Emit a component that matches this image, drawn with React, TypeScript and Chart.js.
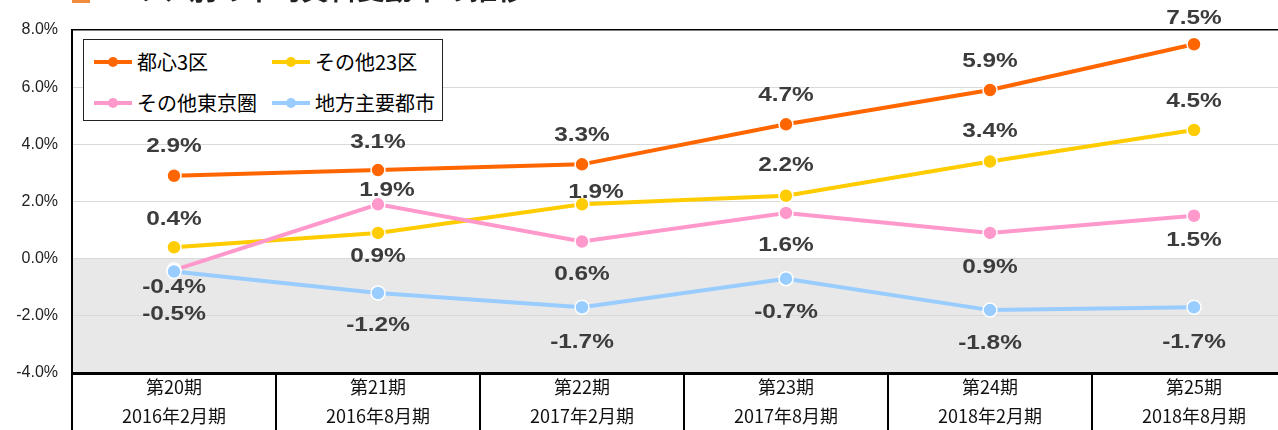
import React, { useEffect, useRef } from "react";
import { Chart, registerables } from "chart.js";

Chart.register(...registerables);

// ---- data ----
const periodLabels = ["第20期", "第21期", "第22期", "第23期", "第24期", "第25期"];
const dateLabels = ["2016年2月期", "2016年8月期", "2017年2月期", "2017年8月期", "2018年2月期", "2018年8月期"];
const seriesNames = ["都心3区", "その他23区", "その他東京圏", "地方主要都市"];
const toshin3 = [2.9, 3.1, 3.3, 4.7, 5.9, 7.5];
const other23 = [0.4, 0.9, 1.9, 2.2, 3.4, 4.5];
const otherTokyo = [-0.4, 1.9, 0.6, 1.6, 0.9, 1.5];
const regionalCities = [-0.45, -1.2, -1.7, -0.7, -1.8, -1.7];
const yTicks = [-4, -2, 0, 2, 4, 6, 8];
const titleText = "エリア別の平均賃料変動率の推移";

// ---- styles ----
const seriesColors = ["#FF6600", "#FFCC00", "#FF99CC", "#99CCFF"];
// label offsets (px) relative to each point
const labelDy = [
  [-29, -28, -29, -29, -29, -26],
  [-28, 24, -12, -30, -30, -29],
  [17, -14, 33, 33, 35, 25],
  [43, 33, 35, 34, 33, 35],
];
const labelDx = [
  [0, 0, 0, 0, 0, 0],
  [0, 0, 14, 0, 0, 0],
  [0, 9, 0, 0, 0, 0],
  [0, 0, 0, 0, 0, 0],
];

const seriesData = [toshin3, other23, otherTokyo, regionalCities];

const CANVAS_W = 1320;
const CANVAS_H = 430;

const negativeBandPlugin = {
  id: "negativeBand",
  beforeDraw(chart: any) {
    const { ctx, chartArea, scales } = chart;
    const y0 = scales.y.getPixelForValue(0);
    ctx.save();
    ctx.fillStyle = "#E8E8E8";
    ctx.fillRect(chartArea.left, y0, chartArea.right - chartArea.left, chartArea.bottom - y0);
    ctx.restore();
  },
};

const separatorPlugin = {
  id: "separators",
  afterDraw(chart: any) {
    const { ctx, chartArea, scales } = chart;
    const xs = scales.x;
    const n = periodLabels.length;
    const w = (xs.right - xs.left) / n;
    ctx.save();
    ctx.strokeStyle = "#000";
    ctx.lineWidth = 2;
    for (let i = 0; i <= n; i++) {
      const x = Math.round(xs.left + i * w);
      ctx.beginPath();
      ctx.moveTo(x, chartArea.bottom);
      ctx.lineTo(x, chart.height);
      ctx.stroke();
    }
    ctx.restore();
  },
};

const dataLabelPlugin = {
  id: "dataLabels",
  afterDatasetsDraw(chart: any) {
    const { ctx } = chart;
    ctx.save();
    ctx.font = "bold 20px 'Liberation Sans', Arial, sans-serif";
    ctx.fillStyle = "#3C3C3C";
    ctx.textAlign = "center";
    ctx.textBaseline = "middle";
    chart.data.datasets.forEach((ds: any, d: number) => {
      const meta = chart.getDatasetMeta(d);
      meta.data.forEach((pt: any, i: number) => {
        const v = ds.data[i] as number;
        const text = v.toFixed(1) + "%";
        ctx.save();
        ctx.translate(pt.x + labelDx[d][i], pt.y + labelDy[d][i]);
        ctx.scale(1.22, 1);
        ctx.fillText(text, 0, 0);
        ctx.restore();
      });
    });
    ctx.restore();
  },
};

export default function App() {
  const canvasRef = useRef<HTMLCanvasElement | null>(null);

  useEffect(() => {
    const canvas = canvasRef.current;
    if (!canvas) return;
    const chart = new Chart(canvas, {
      type: "line",
      data: {
        labels: periodLabels.map((p, i) => [p, dateLabels[i]]),
        datasets: seriesData.map((data, d) => ({
          label: seriesNames[d],
          data,
          borderColor: seriesColors[d],
          backgroundColor: seriesColors[d],
          borderWidth: 4,
          pointRadius: 7,
          pointBorderColor: "#FFFFFF",
          pointBorderWidth: 1.5,
          pointBackgroundColor: seriesColors[d],
          tension: 0,
          fill: false,
          order: 4 - d,
        })),
      },
      options: {
        responsive: false,
        animation: false,
        devicePixelRatio: 1,
        layout: { padding: { top: 30, right: CANVAS_W - 1296, left: 0, bottom: 0 } },
        plugins: {
          legend: { display: false },
          tooltip: { enabled: false },
          title: { display: false },
        },
        scales: {
          x: {
            type: "category",
            offset: true,
            grid: { display: false, drawTicks: false },
            border: { display: true, color: "#000", width: 3 },
            afterFit(scale: any) {
              scale.height = 57;
            },
            ticks: {
              color: "#111",
              font: { family: "'Noto Sans CJK JP', sans-serif", size: 18, lineHeight: 29 / 18 },
              padding: 0,
              maxRotation: 0,
              autoSkip: false,
            },
          },
          y: {
            min: -4,
            max: 8,
            afterBuildTicks(scale: any) {
              scale.ticks = yTicks.map((v) => ({ value: v }));
            },
            afterFit(scale: any) {
              scale.width = 72;
            },
            grid: {
              drawTicks: false,
              color: (ctx: any) => (ctx.tick && ctx.tick.value === 8 ? "#000" : "#D9D9D9"),
              lineWidth: (ctx: any) => (ctx.tick && ctx.tick.value === 8 ? 1.5 : 1),
            },
            border: { display: true, color: "#000", width: 2 },
            ticks: {
              color: "#222",
              padding: 14,
              font: { family: "'Liberation Sans', Arial, sans-serif", size: 16 },
              callback: (v: any) => Number(v).toFixed(1) + "%",
            },
          },
        },
      },
      plugins: [negativeBandPlugin, separatorPlugin, dataLabelPlugin],
    });
    return () => chart.destroy();
  }, []);

  const legendCols = [10, 188];
  const legendRows = [22, 62.5];

  return (
    <div
      style={{
        position: "absolute",
        left: 0,
        top: 0,
        width: 1278,
        height: 430,
        overflow: "hidden",
        background: "#fff",
      }}
    >
      <canvas
        ref={canvasRef}
        width={CANVAS_W}
        height={CANVAS_H}
        style={{ position: "absolute", left: 0, top: 0, width: CANVAS_W, height: CANVAS_H }}
      />
      {/* title, cut off at top as in reference */}
      <div style={{ position: "absolute", left: 72, top: -19, width: 18, height: 22, background: "#F08C3C" }} />
      <div
        style={{
          position: "absolute",
          left: 105,
          top: -28,
          height: 32,
          whiteSpace: "nowrap",
          fontFamily: "'Noto Sans CJK JP', sans-serif",
          fontWeight: 700,
          fontSize: 28,
          lineHeight: "32px",
          color: "#222",
        }}
      >
        {titleText}
      </div>
      {/* legend */}
      <div
        style={{
          position: "absolute",
          left: 83,
          top: 39,
          width: 360,
          height: 82,
          boxSizing: "border-box",
          border: "1.5px solid #222",
          background: "#fff",
        }}
      >
        {seriesNames.map((name, i) => {
          const col = i % 2;
          const row = Math.floor(i / 2);
          return (
            <div
              key={name}
              style={{
                position: "absolute",
                left: legendCols[col],
                top: legendRows[row] - 15,
                height: 30,
                display: "flex",
                alignItems: "center",
                whiteSpace: "nowrap",
              }}
            >
              <div style={{ position: "relative", width: 38, height: 30, marginRight: 5 }}>
                <div
                  style={{
                    position: "absolute",
                    left: 0,
                    top: 13,
                    width: 38,
                    height: 4,
                    background: seriesColors[i],
                  }}
                />
                <div
                  style={{
                    position: "absolute",
                    left: 14,
                    top: 10,
                    width: 10,
                    height: 10,
                    borderRadius: 5,
                    background: seriesColors[i],
                  }}
                />
              </div>
              <span
                style={{
                  fontFamily: "'Noto Sans CJK JP', sans-serif",
                  fontSize: 20,
                  lineHeight: "30px",
                  color: "#000",
                }}
              >
                {name}
              </span>
            </div>
          );
        })}
      </div>
    </div>
  );
}
